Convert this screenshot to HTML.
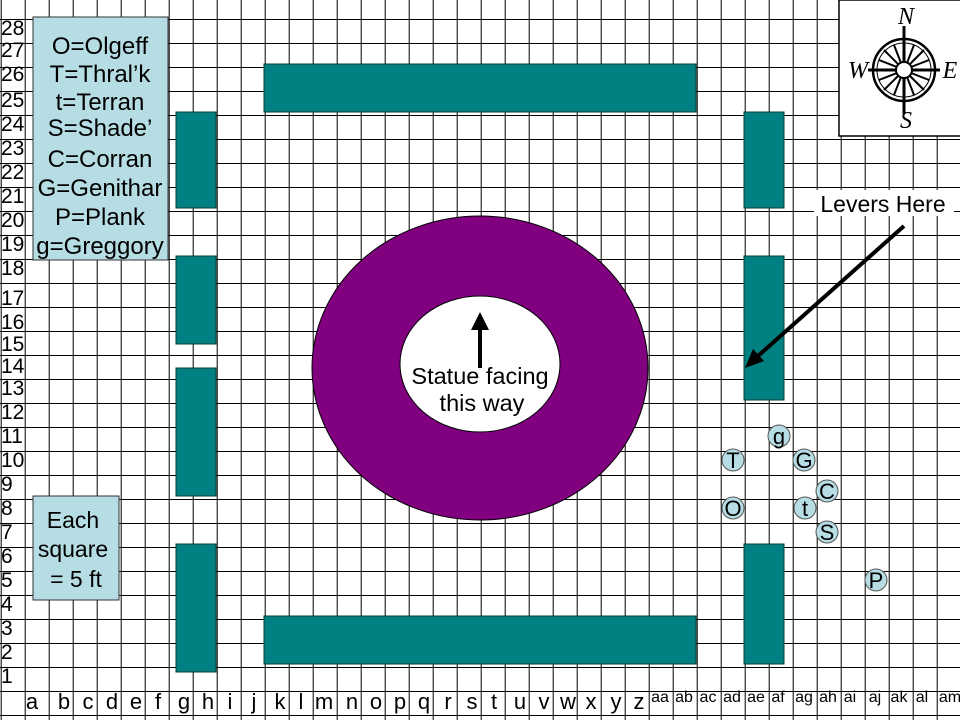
<!DOCTYPE html>
<html><head><meta charset="utf-8"><style>
html,body{margin:0;padding:0;background:#fff;}
svg{display:block;}
text{font-family:"Liberation Sans",Arial,sans-serif;fill:#000;}
</style></head><body>
<svg width="960" height="720" viewBox="0 0 960 720" xmlns="http://www.w3.org/2000/svg">
<defs>
<pattern id="g" x="0.7" y="-5" width="24" height="24" patternUnits="userSpaceOnUse">
<path d="M0 0H24M0 0V24" stroke="#000" stroke-width="2" fill="none"/>
</pattern>
</defs>
<rect x="0" y="0" width="960" height="720" fill="#fff"/>
<rect x="0" y="0" width="960" height="720" fill="url(#g)"/>

<!-- compass box -->
<rect x="839" y="0" width="122" height="136" fill="#fff" stroke="#000" stroke-width="1.5"/>
<g transform="translate(904,70)" stroke="#000" fill="none">
<circle r="31" stroke-width="2.5"/>
<circle r="27" stroke-width="1"/>
<circle r="8" stroke-width="2" fill="#fff"/>
<g stroke-width="3">
<line x1="0" y1="-8" x2="0" y2="-44"/><line x1="0" y1="8" x2="0" y2="44"/>
<line x1="-8" y1="0" x2="-36" y2="0"/><line x1="8" y1="0" x2="36" y2="0"/>
</g>
<g stroke-width="2">
<line x1="6" y1="-6" x2="20" y2="-20"/><line x1="-6" y1="-6" x2="-20" y2="-20"/>
<line x1="6" y1="6" x2="20" y2="20"/><line x1="-6" y1="6" x2="-20" y2="20"/>
<line x1="3" y1="-7" x2="10" y2="-25"/><line x1="-3" y1="-7" x2="-10" y2="-25"/>
<line x1="3" y1="7" x2="10" y2="25"/><line x1="-3" y1="7" x2="-10" y2="25"/>
<line x1="7" y1="3" x2="25" y2="10"/><line x1="7" y1="-3" x2="25" y2="-10"/>
<line x1="-7" y1="3" x2="-25" y2="10"/><line x1="-7" y1="-3" x2="-25" y2="-10"/>
</g>
</g>
<g font-style="italic" font-size="24" text-anchor="middle">
<text x="906" y="24" style="font-family:'Liberation Serif',serif">N</text>
<text x="906" y="128" style="font-family:'Liberation Serif',serif">S</text>
<text x="858" y="78" style="font-family:'Liberation Serif',serif">W</text>
<text x="950" y="78" style="font-family:'Liberation Serif',serif">E</text>
</g>

<!-- teal walls -->
<g fill="#008080" stroke="#0a3a3a" stroke-width="1">
<rect x="264" y="64" width="432" height="48"/>
<rect x="264" y="616" width="432" height="48"/>
<rect x="176" y="112" width="40" height="96"/>
<rect x="176" y="256" width="40" height="88"/>
<rect x="176" y="368" width="40" height="128"/>
<rect x="176" y="544" width="40" height="128"/>
<rect x="744" y="112" width="40" height="96"/>
<rect x="744" y="256" width="40" height="144"/>
<rect x="744" y="544" width="40" height="120"/>
</g>

<!-- ring -->
<ellipse cx="480" cy="368" rx="168" ry="152" fill="#800080" stroke="#000" stroke-width="1"/>
<ellipse cx="480" cy="364" rx="80" ry="68" fill="#fff" stroke="#000" stroke-width="1"/>
<line x1="480" y1="368" x2="480" y2="328" stroke="#000" stroke-width="4"/>
<polygon points="480,312 471,330 489,330" fill="#000"/>
<text x="480" y="384" font-size="23.5" text-anchor="middle">Statue facing</text>
<text x="482" y="411" font-size="23.5" text-anchor="middle">this way</text>

<!-- legend -->
<rect x="33" y="17" width="135" height="243" fill="#b7dde4" stroke="#333" stroke-width="1"/>
<g font-size="24" text-anchor="middle">
<text x="100" y="54">O=Olgeff</text>
<text x="100" y="82">T=Thral’k</text>
<text x="100" y="110">t=Terran</text>
<text x="100" y="136">S=Shade’</text>
<text x="100" y="167">C=Corran</text>
<text x="100" y="196">G=Genithar</text>
<text x="100" y="225">P=Plank</text>
<text x="100" y="254">g=Greggory</text>
</g>
<rect x="33" y="496" width="86" height="104" fill="#b7dde4" stroke="#333" stroke-width="1"/>
<g font-size="23" text-anchor="middle">
<text x="73" y="528">Each</text>
<text x="73" y="557">square</text>
<text x="76" y="587">= 5 ft</text>
</g>

<!-- levers -->
<rect x="814" y="190" width="140" height="26" fill="#fff"/>
<text x="883" y="212" font-size="23" text-anchor="middle">Levers Here</text>
<line x1="904" y1="226" x2="758" y2="356" stroke="#000" stroke-width="4"/>
<polygon points="745,368 753,349 764,361" fill="#000"/>

<!-- tokens -->
<g fill="#b7dde4" stroke="#555" stroke-width="1">
<circle cx="779" cy="436" r="11"/><circle cx="733" cy="460" r="11"/>
<circle cx="804" cy="460" r="11"/><circle cx="827" cy="491" r="11"/>
<circle cx="733" cy="508" r="11"/><circle cx="805" cy="508" r="11"/>
<circle cx="827" cy="532" r="11"/><circle cx="876" cy="580" r="11"/>
</g>
<g font-size="22" text-anchor="middle">
<text x="779" y="444">g</text><text x="733" y="468">T</text>
<text x="804" y="468">G</text><text x="827" y="499">C</text>
<text x="733" y="516">O</text><text x="805" y="516">t</text>
<text x="827" y="540">S</text><text x="876" y="588">P</text>
</g>

<!-- row labels -->
<g font-size="21">
<text x="1" y="35">28</text><text x="1" y="57">27</text><text x="1" y="81">26</text>
<text x="1" y="107">25</text><text x="1" y="131">24</text><text x="1" y="155">23</text>
<text x="1" y="179">22</text><text x="1" y="203">21</text><text x="1" y="227">20</text>
<text x="1" y="251">19</text><text x="1" y="275">18</text><text x="1" y="305">17</text>
<text x="1" y="329">16</text><text x="1" y="351">15</text><text x="1" y="373">14</text>
<text x="1" y="395">13</text><text x="1" y="419">12</text><text x="1" y="443">11</text>
<text x="1" y="467">10</text><text x="1" y="491">9</text><text x="1" y="515">8</text>
<text x="1" y="539">7</text><text x="1" y="563">6</text><text x="1" y="587">5</text>
<text x="1" y="611">4</text><text x="1" y="635">3</text><text x="1" y="659">2</text>
<text x="1" y="683">1</text>
</g>
<!-- column labels -->
<g font-size="22" text-anchor="middle">
<text x="32" y="709">a</text><text x="64" y="709">b</text><text x="88" y="709">c</text>
<text x="112" y="709">d</text><text x="136" y="709">e</text><text x="158" y="709">f</text>
<text x="184" y="709">g</text><text x="208" y="709">h</text><text x="230" y="709">i</text>
<text x="254" y="709">j</text><text x="280" y="709">k</text><text x="301" y="709">l</text>
<text x="324" y="709">m</text><text x="352" y="709">n</text><text x="376" y="709">o</text>
<text x="400" y="709">p</text><text x="424" y="709">q</text><text x="448" y="709">r</text>
<text x="472" y="709">s</text><text x="494" y="709">t</text><text x="520" y="709">u</text>
<text x="544" y="709">v</text><text x="568" y="709">w</text><text x="591" y="709">x</text>
<text x="616" y="709">y</text><text x="639" y="709">z</text>
</g>
<g font-size="16" text-anchor="middle">
<text x="660" y="702">aa</text><text x="684" y="702">ab</text><text x="708" y="702">ac</text>
<text x="732" y="702">ad</text><text x="756" y="702">ae</text><text x="778" y="702">af</text>
<text x="804" y="702">ag</text><text x="828" y="702">ah</text><text x="850" y="702">ai</text>
<text x="875" y="702">aj</text><text x="899" y="702">ak</text><text x="922" y="702">al</text>
<text x="950" y="702">am</text>
</g>
</svg>
</body></html>
